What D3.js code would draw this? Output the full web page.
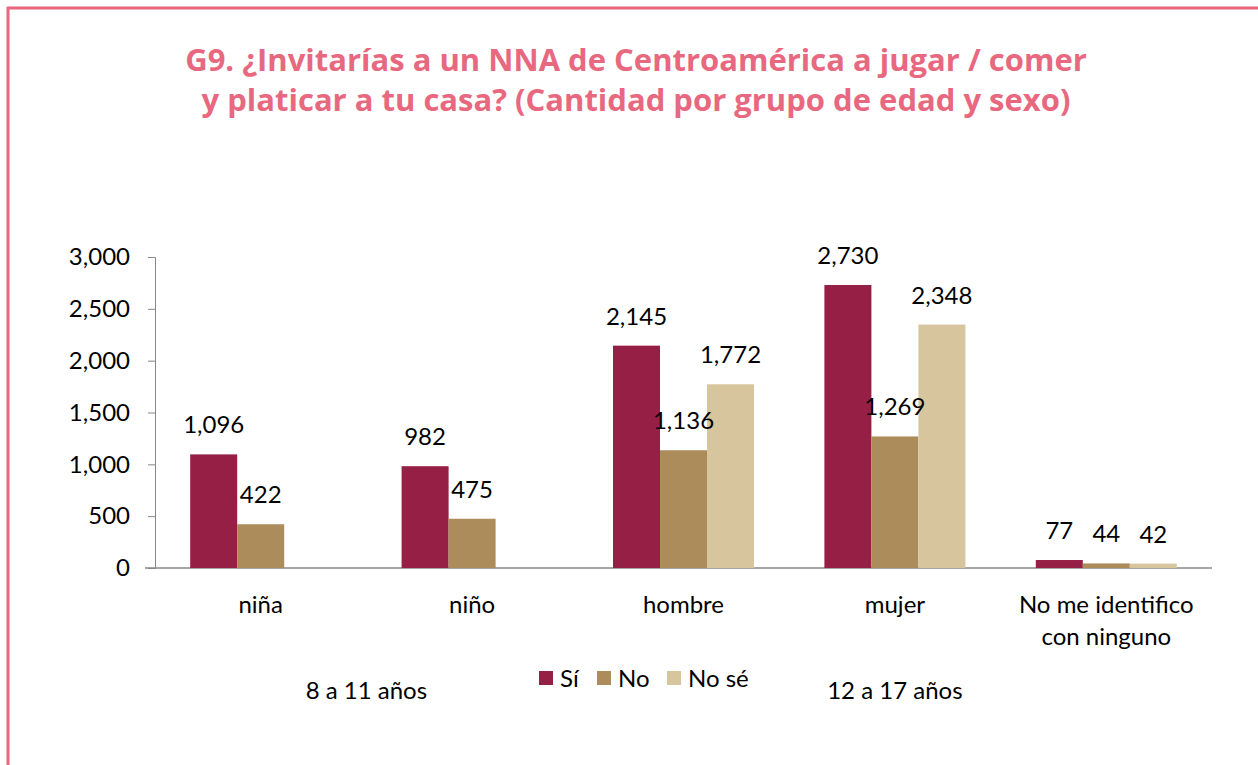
<!DOCTYPE html>
<html>
<head>
<meta charset="utf-8">
<script src="https://cdn.jsdelivr.net/npm/d3@7"></script>
<style>
  body { margin: 0; background: #fff; }
  .tick text { font-family: Lato, "Open Sans", sans-serif; }
</style>
</head>
<body>
<div class="chart"></div>
<script>
const width = 1258;
const height = 765;

// datos
const categorias = ["niña", "niño", "hombre", "mujer", "No me identifico|con ninguno"];
const series = ["Sí", "No", "No sé"];
const valoresSi = [1096, 982, 2145, 2730, 77];
const valoresNo = [422, 475, 1136, 1269, 44];
const valoresNoSe = [null, null, 1772, 2348, 42];
const yTicks = [0, 500, 1000, 1500, 2000, 2500, 3000];
const grupos = [{label: "8 a 11 años", cats: [0, 1]}, {label: "12 a 17 años", cats: [3]}];
const colores = ["#961F45", "#AD8C5B", "#D7C59E"];

// una fila por barra (se omiten las que no tienen valor)
const barras = [];
categorias.forEach(function(c, i) {
    [valoresSi[i], valoresNo[i], valoresNoSe[i]].forEach(function(v, j) {
        if (v !== null) barras.push({cat: c, serie: series[j], j: j, value: v});
    });
});

const fuente = "Lato, sans-serif";
const tam = "24px";

const svg = d3.select(".chart").append("svg")
    .attr("width", width)
    .attr("height", height);

// marco rosa
svg.append("line").attr("x1", 7).attr("x2", width).attr("y1", 8).attr("y2", 8)
    .attr("stroke", "#E8697F").attr("stroke-width", 3);
svg.append("line").attr("x1", 8).attr("x2", 8).attr("y1", 7).attr("y2", height)
    .attr("stroke", "#E8697F").attr("stroke-width", 3);

// titulo
const titulo = ["G9. ¿Invitarías a un NNA de Centroamérica a jugar / comer",
                "y platicar a tu casa? (Cantidad por grupo de edad y sexo)"];
svg.selectAll(".titulo").data(titulo).enter().append("text")
    .attr("class", "titulo")
    .attr("x", 636)
    .attr("y", function(d, i) { return 71 + i * 40; })
    .attr("text-anchor", "middle")
    .attr("fill", "#E8697F")
    .style("font-family", "'Open Sans', sans-serif")
    .style("font-weight", "bold")
    .style("font-size", "31px")
    .text(function(d) { return d; });

const x0 = 155, x1 = 1212, yBase = 568, yTop = 257;

const xScale = d3.scaleBand()
    .domain(categorias)
    .range([x0, x1]);
const xSub = d3.scaleBand()
    .domain(series)
    .range([0, 141]);
const yScale = d3.scaleLinear()
    .domain([0, 3000])
    .range([yBase, yTop]);

function barX(d) {
    return xScale(d.cat) + (xScale.bandwidth() - 141) / 2 + xSub(d.serie);
}

// eje y
const yAxis = svg.append("g")
    .attr("transform", "translate(" + x0 + ",0)")
    .call(d3.axisLeft(yScale).tickValues(yTicks).tickFormat(d3.format(",")).tickSize(7).tickPadding(18));
yAxis.select(".domain").attr("stroke", "#888");
yAxis.selectAll(".tick line").attr("stroke", "#888");
yAxis.selectAll(".tick text").style("font-size", tam).attr("fill", "#000");

// eje x
svg.append("line").attr("x1", x0 - 10).attr("x2", x1).attr("y1", yBase).attr("y2", yBase)
    .attr("stroke", "#888").attr("stroke-width", 1.5);

// barras
svg.append("g").selectAll("rect").data(barras)
    .enter().append("rect")
    .attr("x", barX)
    .attr("y", function(d) { return yScale(d.value); })
    .attr("width", xSub.bandwidth())
    .attr("height", function(d) { return yBase - yScale(d.value); })
    .attr("fill", function(d) { return colores[d.j]; });

// valores encima de las barras
svg.append("g").selectAll("text").data(barras)
    .enter().append("text")
    .attr("x", function(d) { return barX(d) + xSub.bandwidth() / 2; })
    .attr("y", function(d) { return yScale(d.value) - 21; })
    .attr("text-anchor", "middle")
    .style("font-family", fuente)
    .style("font-size", tam)
    .text(function(d) { return d3.format(",")(d.value); });

// etiquetas de categoria
categorias.forEach(function(c) {
    const lineas = c.split("|");
    lineas.forEach(function(l, k) {
        svg.append("text")
            .attr("x", xScale(c) + xScale.bandwidth() / 2)
            .attr("y", 613 + k * 32)
            .attr("text-anchor", "middle")
            .style("font-family", fuente)
            .style("font-size", tam)
            .text(l);
    });
});

// grupos de edad
grupos.forEach(function(gr) {
    const cx = d3.mean(gr.cats, function(i) { return xScale(categorias[i]) + xScale.bandwidth() / 2; });
    svg.append("text")
        .attr("x", cx)
        .attr("y", 699)
        .attr("text-anchor", "middle")
        .style("font-family", fuente)
        .style("font-size", tam)
        .text(gr.label);
});

// leyenda
const legX = [539, 597, 667];
const leg = svg.selectAll(".leg").data(series).enter().append("g")
    .attr("class", "leg")
    .attr("transform", function(d, i) { return "translate(" + legX[i] + ",671)"; });
leg.append("rect").attr("width", 14).attr("height", 14)
    .attr("fill", function(d, i) { return colores[i]; });
leg.append("text").attr("x", 21).attr("y", 16)
    .style("font-family", fuente)
    .style("font-size", tam)
    .text(function(d) { return d; });
</script>
</body>
</html>
